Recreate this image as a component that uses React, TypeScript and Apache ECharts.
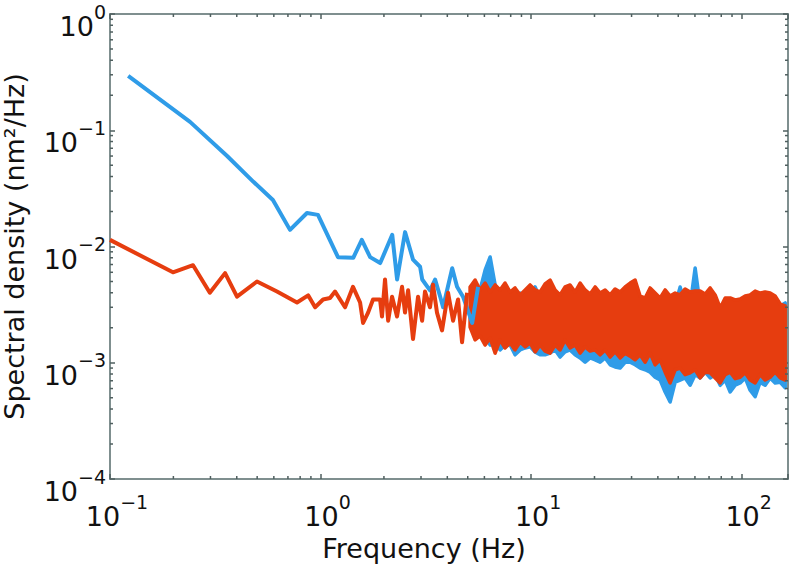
import React, { useEffect, useRef } from "react";
import * as echarts from "echarts";

// ---- data ----
const blueLineFreq = [0.122, 0.24, 0.36, 0.48, 0.594, 0.716, 0.862, 0.972, 1.21, 1.43, 1.57, 1.72, 1.92, 2.19, 2.31, 2.52, 2.75, 2.97, 3.04, 3.31, 3.5, 3.7, 3.82, 4.22, 4.45, 4.75, 5.25, 5.6];
const blueLineDensity = [0.293, 0.118, 0.06, 0.036, 0.0251, 0.0139, 0.0194, 0.0187, 0.0081, 0.008, 0.0114, 0.0081, 0.0072, 0.0126, 0.0052, 0.0133, 0.0077, 0.0067, 0.0052, 0.0042, 0.0052, 0.0037, 0.003, 0.0065, 0.0045, 0.0037, 0.0022, 0.0045];

const redLineFreq = [0.1, 0.199, 0.248, 0.298, 0.352, 0.401, 0.499, 0.621, 0.773, 0.873, 0.942, 1.028, 1.109, 1.172, 1.238, 1.307, 1.426, 1.541, 1.592, 1.682, 1.775, 1.917, 1.958, 2.024, 2.094, 2.186, 2.308, 2.438, 2.518, 2.605, 2.749, 2.904, 3.036, 3.134, 3.311, 3.421, 3.573, 3.776, 4.033, 4.259, 4.498, 4.7, 4.966];
const redLineDensity = [0.0114, 0.006, 0.0069, 0.004, 0.0059, 0.0037, 0.005, 0.0041, 0.0033, 0.0038, 0.003, 0.0035, 0.0036, 0.0041, 0.0035, 0.003, 0.0045, 0.0033, 0.0022, 0.0027, 0.0035, 0.0035, 0.0025, 0.0052, 0.0023, 0.0037, 0.0025, 0.0045, 0.0027, 0.0042, 0.0016, 0.0037, 0.0023, 0.0041, 0.003, 0.0047, 0.0027, 0.0019, 0.004, 0.0023, 0.0035, 0.0015, 0.004];

// dense high-frequency part: upper / lower envelopes of the noisy band
const redBandFreq = [5.13, 5.42, 5.72, 6.05, 6.39, 6.75, 7.12, 7.52, 7.95, 8.39, 8.87, 9.37, 9.89, 10.45, 11.03, 11.65, 12.31, 13.0, 13.73, 14.5, 15.32, 16.18, 17.09, 18.05, 19.07, 20.14, 21.27, 22.47, 23.73, 25.06, 26.47, 27.96, 29.53, 31.19, 32.94, 34.8, 36.75, 38.82, 41.0, 43.31, 45.74, 48.31, 51.03, 53.9, 56.93, 60.13, 63.52, 67.09, 70.86, 74.85, 79.06, 83.5, 88.2, 93.16, 98.38, 103.9, 109.7, 115.9, 122.4, 129.3, 136.6, 144.2, 152.4, 161.0];
const redBandUpper = [0.00449, 0.00515, 0.00423, 0.00485, 0.00406, 0.00467, 0.00423, 0.00485, 0.00406, 0.0044, 0.00383, 0.00423, 0.00467, 0.00423, 0.00406, 0.00476, 0.00515, 0.00423, 0.00383, 0.00449, 0.00467, 0.00406, 0.00485, 0.00423, 0.0039, 0.00449, 0.00398, 0.00423, 0.00383, 0.00431, 0.00406, 0.00449, 0.00485, 0.00515, 0.00375, 0.00361, 0.0044, 0.00398, 0.00361, 0.00423, 0.00375, 0.00398, 0.00383, 0.00431, 0.00406, 0.00414, 0.00414, 0.0039, 0.0044, 0.00383, 0.00296, 0.00361, 0.00361, 0.00347, 0.00354, 0.00375, 0.00383, 0.00414, 0.00398, 0.00406, 0.00398, 0.00375, 0.0032, 0.00308];
const redBandLower = [0.00203, 0.00157, 0.0017, 0.00142, 0.00163, 0.00121, 0.00157, 0.00134, 0.00148, 0.00129, 0.00151, 0.00137, 0.00148, 0.00124, 0.00142, 0.00126, 0.00121, 0.00142, 0.00129, 0.00157, 0.00134, 0.00142, 0.00121, 0.00137, 0.00126, 0.00129, 0.00117, 0.00129, 0.00112, 0.00124, 0.0011, 0.00121, 0.00114, 0.00106, 0.00117, 0.00101, 0.00121, 0.00096, 0.00106, 0.00083, 0.00067, 0.00087, 0.0009, 0.00079, 0.00082, 0.00087, 0.00074, 0.00083, 0.00082, 0.00074, 0.00067, 0.00079, 0.00083, 0.00073, 0.00075, 0.00082, 0.00071, 0.00067, 0.00079, 0.00071, 0.00075, 0.00083, 0.00074, 0.00071];

const blueBandFreq = [5.72, 6.05, 6.39, 6.75, 7.12, 7.52, 7.95, 8.39, 8.87, 9.37, 9.89, 10.45, 11.03, 11.65, 12.31, 13.0, 13.73, 14.5, 15.32, 16.18, 17.09, 18.05, 19.07, 20.14, 21.27, 22.47, 23.73, 25.06, 26.47, 27.96, 29.53, 31.19, 32.94, 34.8, 36.75, 38.82, 41.0, 43.31, 45.74, 48.31, 51.03, 53.9, 56.93, 60.13, 63.52, 67.09, 70.86, 74.85, 79.06, 83.5, 88.2, 93.16, 98.38, 103.9, 109.7, 115.9, 122.4, 129.3, 136.6, 144.2, 152.4, 161.0];
const blueBandUpper = [0.00423, 0.00628, 0.00813, 0.00467, 0.00383, 0.00467, 0.00361, 0.00361, 0.00398, 0.00347, 0.00383, 0.00449, 0.00361, 0.00347, 0.00347, 0.00333, 0.00347, 0.00327, 0.00347, 0.00327, 0.00333, 0.00327, 0.00327, 0.00327, 0.00314, 0.00314, 0.00314, 0.00314, 0.00314, 0.00314, 0.00314, 0.00314, 0.00296, 0.00296, 0.00308, 0.00296, 0.00296, 0.00308, 0.00296, 0.00314, 0.00449, 0.00314, 0.00314, 0.00653, 0.00314, 0.00296, 0.00296, 0.00284, 0.00273, 0.00284, 0.00284, 0.00284, 0.00284, 0.00296, 0.00296, 0.00296, 0.00296, 0.00296, 0.00296, 0.00296, 0.00308, 0.00327];
const blueBandLower = [0.00191, 0.00163, 0.00142, 0.00157, 0.00129, 0.00142, 0.00142, 0.00117, 0.00129, 0.00134, 0.00137, 0.00124, 0.00117, 0.00117, 0.00121, 0.00129, 0.00112, 0.00124, 0.00129, 0.00117, 0.0011, 0.00101, 0.0011, 0.00106, 0.00101, 0.0011, 0.00096, 0.00092, 0.0009, 0.00101, 0.00101, 0.00096, 0.0009, 0.00087, 0.00083, 0.00075, 0.00071, 0.00056, 0.00046, 0.00068, 0.00071, 0.00074, 0.00064, 0.00079, 0.00074, 0.00083, 0.00074, 0.00079, 0.00064, 0.00071, 0.00056, 0.00064, 0.00067, 0.00074, 0.00058, 0.00051, 0.00068, 0.00064, 0.00074, 0.00067, 0.00068, 0.00061];

// axis ranges and minor tick positions
const X_MIN = 0.1;
const X_MAX = 166;
const Y_MIN = 1e-4;
const Y_MAX = 1;
const MINOR_MULTS = [2, 3, 4, 5, 6, 7, 8, 9];
const X_DECADES = [0.1, 1, 10];
const Y_DECADES = [1e-4, 1e-3, 1e-2, 1e-1];

const BLUE = "#2f9ce8";
const RED = "#e63d0f";
const FRAME = "#7f8f8f";
const TICK = "#4f5f5f";
const FONT = "DejaVu Sans";

const supLabel = (v: number) => {
  const e = Math.log10(v);
  const r = Math.round(e);
  if (Math.abs(e - r) > 1e-6) return "";
  const s = r < 0 ? "\u2212" + -r : String(r);
  return `{b|10}{s|${s}}`;
};
const richLabel = {
  b: { fontSize: 27, lineHeight: 38, fontFamily: FONT, color: "#111", verticalAlign: "bottom" },
  s: { fontSize: 19, lineHeight: 19, fontFamily: FONT, color: "#111", verticalAlign: "top" },
};

export default function App() {
  const ref = useRef<HTMLDivElement>(null);
  useEffect(() => {
    document.body.style.margin = "0";
    if (!ref.current) return;
    const chart = echarts.init(ref.current, undefined, { renderer: "svg" });

    const bandRender = (freq: number[], up: number[], lo: number[], color: string) =>
      (_p: any, api: any) => {
        const pts: number[][] = [];
        for (let i = 0; i < freq.length; i++) pts.push(api.coord([freq[i], up[i]]));
        for (let i = freq.length - 1; i >= 0; i--) pts.push(api.coord([freq[i], lo[i]]));
        return {
          type: "polygon",
          shape: { points: pts },
          style: { fill: color, stroke: color, lineWidth: 3.5, lineJoin: "round" },
        };
      };

    const xMinor: number[] = [];
    X_DECADES.forEach((d) => MINOR_MULTS.forEach((m) => { if (d * m < X_MAX) xMinor.push(d * m); }));
    const yMinor: number[] = [];
    Y_DECADES.forEach((d) => MINOR_MULTS.forEach((m) => yMinor.push(d * m)));

    const tickLine = (x1: number, y1: number, x2: number, y2: number) => ({
      type: "line",
      shape: { x1, y1, x2, y2 },
      style: { stroke: TICK, lineWidth: 1.5 },
    });

    const axisLine = { show: true, onZero: false, lineStyle: { color: FRAME, width: 2 } };
    const axisTick = { show: true, inside: true, length: 5, lineStyle: { color: TICK, width: 1.5 } };

    chart.setOption({
      animation: false,
      textStyle: { fontFamily: FONT },
      grid: { left: 110, right: 8, top: 14, bottom: 93, containLabel: false, outerBoundsMode: "none" },
      xAxis: [
        {
          type: "log", logBase: 10, min: X_MIN, max: X_MAX, position: "bottom",
          axisLine, axisTick, splitLine: { show: false }, minorTick: { show: false },
          axisLabel: { formatter: supLabel, rich: richLabel, margin: 13, padding: [0, 0, 0, 14], hideOverlap: false },
          name: "Frequency (Hz)", nameLocation: "middle", nameGap: 55,
          nameTextStyle: { fontSize: 27, fontFamily: FONT, color: "#111", padding: [0, 50, 0, 0] },
        },
        {
          type: "log", logBase: 10, min: X_MIN, max: X_MAX, position: "top",
          axisLine, axisTick, splitLine: { show: false }, axisLabel: { show: false },
        },
      ],
      yAxis: [
        {
          type: "log", logBase: 10, min: Y_MIN, max: Y_MAX, position: "left",
          axisLine, axisTick, splitLine: { show: false },
          axisLabel: { formatter: supLabel, rich: richLabel, margin: 4, padding: [14, 0, 0, 0] },
          name: "Spectral density (nm\u00b2/Hz)", nameLocation: "middle", nameGap: 82,
          nameTextStyle: { fontSize: 27, fontFamily: FONT, color: "#111" },
        },
        {
          type: "log", logBase: 10, min: Y_MIN, max: Y_MAX, position: "right",
          axisLine, axisTick, splitLine: { show: false }, axisLabel: { show: false },
        },
      ],
      series: [
        {
          type: "line", name: "blue", data: blueLineFreq.map((f, i) => [f, blueLineDensity[i]]),
          showSymbol: false, lineStyle: { color: BLUE, width: 4, join: "round" }, itemStyle: { color: BLUE }, silent: true,
        },
        {
          type: "custom", name: "blue band", renderItem: bandRender(blueBandFreq, blueBandUpper, blueBandLower, BLUE),
          data: [[blueBandFreq[0], blueBandUpper[0]]], encode: { x: 0, y: 1 }, silent: true,
        },
        {
          type: "line", name: "red", data: redLineFreq.map((f, i) => [f, redLineDensity[i]]),
          showSymbol: false, lineStyle: { color: RED, width: 4, join: "round" }, itemStyle: { color: RED }, silent: true,
        },
        {
          type: "custom", name: "red band", renderItem: bandRender(redBandFreq, redBandUpper, redBandLower, RED),
          data: [[redBandFreq[0], redBandUpper[0]]], encode: { x: 0, y: 1 }, silent: true,
        },
        {
          type: "custom", name: "x minor ticks", silent: true, clip: false,
          data: xMinor.map((f) => [f, 0.001]), encode: { x: 0, y: 1 },
          renderItem: (_p: any, api: any) => {
            const f = api.value(0);
            const b = api.coord([f, Y_MIN]);
            const t = api.coord([f, Y_MAX]);
            return { type: "group", children: [tickLine(b[0], b[1], b[0], b[1] - 3), tickLine(t[0], t[1], t[0], t[1] + 3)] };
          },
        },
        {
          type: "custom", name: "y minor ticks", silent: true, clip: false,
          data: yMinor.map((v) => [1, v]), encode: { x: 0, y: 1 },
          renderItem: (_p: any, api: any) => {
            const v = api.value(1);
            const l = api.coord([X_MIN, v]);
            const r = api.coord([X_MAX, v]);
            return { type: "group", children: [tickLine(l[0], l[1], l[0] + 3, l[1]), tickLine(r[0], r[1], r[0] - 3, r[1])] };
          },
        },
      ],
    });
    return () => chart.dispose();
  }, []);
  return <div ref={ref} style={{ width: 796, height: 572 }} />;
}
